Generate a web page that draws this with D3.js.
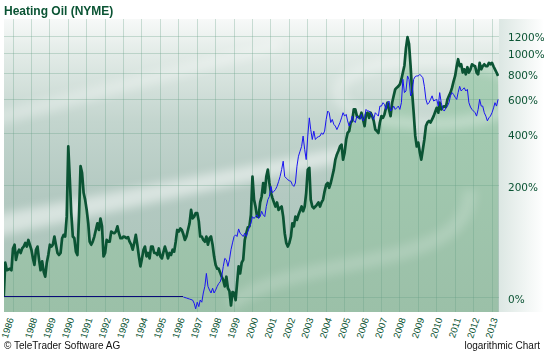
<!DOCTYPE html>
<html><head><meta charset="utf-8">
<script src="https://cdn.jsdelivr.net/npm/d3@7"></script>
<style>body{margin:0;background:#fff}svg{display:block}</style>
</head><body>
<svg id="chart" width="544" height="353"></svg>
<script>
const title = "Heating Oil (NYME)";
const footerLeft = "\u00A9 TeleTrader Software AG";
const footerRight = "logarithmic Chart";
const yTickValues = [0, 200, 400, 600, 800, 1000, 1200];
const xTickLabels = ["1986","1988","1989","1990","1991","1992","1993","1994","1995","1996","1997","1998","1999","2000","2001","2002","2003","2004","2005","2006","2007","2008","2009","2010","2011","2012","2013"];

// Heating oil, % change since start (monthly)
const heatingOil = [
["1986-07",0],["1986-08",40],["1986-09",30],["1986-10",31],["1986-11",32],["1986-12",30],
["1987-01",61],["1987-02",67],["1987-03",44],["1987-04",54],["1987-05",59],["1987-06",54],["1987-07",61],["1987-08",64],["1987-09",70],["1987-10",64],["1987-11",75],["1987-12",67],
["1988-01",59],["1988-02",46],["1988-03",37],["1988-04",59],["1988-05",64],["1988-06",44],["1988-07",30],["1988-08",42],["1988-09",28],["1988-10",22],["1988-11",40],["1988-12",51],
["1989-01",67],["1989-02",64],["1989-03",67],["1989-04",81],["1989-05",67],["1989-06",54],["1989-07",51],["1989-08",54],["1989-09",78],["1989-10",84],["1989-11",81],["1989-12",120],
["1990-01",338],["1990-02",216],["1990-03",128],["1990-04",81],["1990-05",78],["1990-06",56],["1990-07",51],["1990-08",120],["1990-09",261],["1990-10",238],["1990-11",178],["1990-12",160],
["1991-01",135],["1991-02",106],["1991-03",72],["1991-04",67],["1991-05",72],["1991-06",81],["1991-07",93],["1991-08",106],["1991-09",93],["1991-10",116],["1991-11",100],["1991-12",49],
["1992-01",54],["1992-02",75],["1992-03",72],["1992-04",72],["1992-05",90],["1992-06",88],["1992-07",87],["1992-08",90],["1992-09",100],["1992-10",87],["1992-11",78],["1992-12",78],
["1993-01",81],["1993-02",80],["1993-03",78],["1993-04",80],["1993-05",72],["1993-06",67],["1993-07",59],["1993-08",70],["1993-09",84],["1993-10",67],["1993-11",49],["1993-12",35],
["1994-01",46],["1994-02",59],["1994-03",64],["1994-04",49],["1994-05",54],["1994-06",46],["1994-07",64],["1994-08",64],["1994-09",54],["1994-10",54],["1994-11",51],["1994-12",61],
["1995-01",49],["1995-02",46],["1995-03",55],["1995-04",64],["1995-05",56],["1995-06",46],["1995-07",54],["1995-08",51],["1995-09",59],["1995-10",56],["1995-11",72],["1995-12",93],
["1996-01",90],["1996-02",96],["1996-03",93],["1996-04",85],["1996-05",75],["1996-06",81],["1996-07",93],["1996-08",106],["1996-09",135],["1996-10",116],["1996-11",120],["1996-12",128],
["1997-01",128],["1997-02",110],["1997-03",81],["1997-04",81],["1997-05",75],["1997-06",72],["1997-07",81],["1997-08",67],["1997-09",78],["1997-10",81],["1997-11",67],["1997-12",49],
["1998-01",37],["1998-02",32],["1998-03",32],["1998-04",27],["1998-05",22],["1998-06",18],["1998-07",11],["1998-08",22],["1998-09",9],["1998-10",6],["1998-11",-8],["1998-12",5],
["1999-01",4],["1999-02",-3],["1999-03",14],["1999-04",35],["1999-05",26],["1999-06",40],["1999-07",44],["1999-08",75],["1999-09",87],["1999-10",98],["1999-11",100],["1999-12",124],
["2000-01",226],["2000-02",160],["2000-03",143],["2000-04",120],["2000-05",120],["2000-06",153],["2000-07",168],["2000-08",206],["2000-09",178],["2000-10",226],["2000-11",249],["2000-12",206],
["2001-01",178],["2001-02",164],["2001-03",153],["2001-04",143],["2001-05",153],["2001-06",135],["2001-07",140],["2001-08",143],["2001-09",120],["2001-10",87],["2001-11",70],["2001-12",64],
["2002-01",70],["2002-02",81],["2002-03",106],["2002-04",100],["2002-05",120],["2002-06",113],["2002-07",124],["2002-08",133],["2002-09",143],["2002-10",132],["2002-11",143],["2002-12",178],
["2003-01",249],["2003-02",255],["2003-03",160],["2003-04",143],["2003-05",139],["2003-06",143],["2003-07",147],["2003-08",153],["2003-09",143],["2003-10",153],["2003-11",160],["2003-12",182],
["2004-01",201],["2004-02",206],["2004-03",192],["2004-04",206],["2004-05",226],["2004-06",249],["2004-07",285],["2004-08",305],["2004-09",320],["2004-10",338],["2004-11",346],["2004-12",285],
["2005-01",312],["2005-02",369],["2005-03",400],["2005-04",409],["2005-05",454],["2005-06",463],["2005-07",530],["2005-08",530],["2005-09",490],["2005-10",485],["2005-11",480],["2005-12",510],
["2006-01",471],["2006-02",435],["2006-03",500],["2006-04",510],["2006-05",480],["2006-06",510],["2006-07",490],["2006-08",463],["2006-09",417],["2006-10",410],["2006-11",400],["2006-12",454],
["2007-01",490],["2007-02",480],["2007-03",500],["2007-04",540],["2007-05",573],["2007-06",530],["2007-07",490],["2007-08",573],["2007-09",620],["2007-10",667],["2007-11",680],["2007-12",690],
["2008-01",706],["2008-02",747],["2008-03",805],["2008-04",870],["2008-05",1050],["2008-06",1180],["2008-07",1100],["2008-08",863],["2008-09",643],["2008-10",510],["2008-11",387],["2008-12",338],
["2009-01",355],["2009-02",312],["2009-03",285],["2009-04",325],["2009-05",369],["2009-06",435],["2009-07",454],["2009-08",463],["2009-09",454],["2009-10",471],["2009-11",490],["2009-12",515],
["2010-01",540],["2010-02",510],["2010-03",573],["2010-04",530],["2010-05",545],["2010-06",550],["2010-07",545],["2010-08",595],["2010-09",620],["2010-10",643],["2010-11",680],["2010-12",730],
["2011-01",775],["2011-02",863],["2011-03",931],["2011-04",863],["2011-05",881],["2011-06",805],["2011-07",834],["2011-08",789],["2011-09",853],["2011-10",805],["2011-11",834],["2011-12",881],
["2012-01",870],["2012-02",863],["2012-03",805],["2012-04",789],["2012-05",895],["2012-06",834],["2012-07",863],["2012-08",881],["2012-09",863],["2012-10",863],["2012-11",895],["2012-12",881],
["2013-01",895],["2013-02",860],["2013-03",834],["2013-04",805],["2013-05",775]
];

// Comparison series (blue), % change, flat at 0 before its data begins
const comparison = [
["1986-07",0],["1996-04",0],["1996-06",-1],["1996-08",-2],["1996-10",-3],["1996-11",-6],["1996-12",-11],
["1997-01",-5],["1997-02",-9],["1997-03",-3],["1997-04",-5],["1997-05",4],["1997-06",11],["1997-07",26],["1997-08",11],["1997-09",7],["1997-10",4],["1997-11",9],["1997-12",4],
["1998-01",7],["1998-02",11],["1998-03",14],["1998-04",16],["1998-05",22],["1998-06",35],["1998-07",46],["1998-08",44],["1998-09",35],["1998-10",44],["1998-11",59],["1998-12",70],
["1999-01",81],["1999-02",84],["1999-03",81],["1999-04",95],["1999-05",87],["1999-06",84],["1999-07",81],["1999-08",87],["1999-09",81],["1999-10",90],["1999-11",98],["1999-12",106],
["2000-01",120],["2000-02",116],["2000-03",120],["2000-04",124],["2000-05",116],["2000-06",120],["2000-07",132],["2000-08",124],["2000-09",120],["2000-10",143],["2000-11",160],["2000-12",168],
["2001-01",196],["2001-02",178],["2001-03",182],["2001-04",187],["2001-05",196],["2001-06",210],["2001-07",226],["2001-08",249],["2001-09",279],["2001-10",226],["2001-11",221],["2001-12",216],
["2002-01",213],["2002-02",211],["2002-03",201],["2002-04",196],["2002-05",206],["2002-06",261],["2002-07",298],["2002-08",318],["2002-09",338],["2002-10",385],["2002-11",325],["2002-12",285],
["2003-01",385],["2003-02",480],["2003-03",417],["2003-04",369],["2003-05",409],["2003-06",369],["2003-07",378],["2003-08",382],["2003-09",385],["2003-10",400],["2003-11",393],["2003-12",409],
["2004-01",471],["2004-02",520],["2004-03",510],["2004-04",454],["2004-05",471],["2004-06",444],["2004-07",435],["2004-08",417],["2004-09",435],["2004-10",454],["2004-11",480],["2004-12",510],
["2005-01",490],["2005-02",500],["2005-03",463],["2005-04",435],["2005-05",454],["2005-06",490],["2005-07",463],["2005-08",454],["2005-09",490],["2005-10",480],["2005-11",471],["2005-12",500],
["2006-01",463],["2006-02",480],["2006-03",530],["2006-04",520],["2006-05",520],["2006-06",510],["2006-07",490],["2006-08",471],["2006-09",510],["2006-10",500],["2006-11",490],["2006-12",551],
["2007-01",551],["2007-02",573],["2007-03",562],["2007-04",530],["2007-05",573],["2007-06",584],["2007-07",520],["2007-08",530],["2007-09",551],["2007-10",530],["2007-11",540],["2007-12",551],
["2008-01",530],["2008-02",573],["2008-03",747],["2008-04",643],["2008-05",655],["2008-06",775],["2008-07",747],["2008-08",620],["2008-09",643],["2008-10",747],["2008-11",770],["2008-12",775],
["2009-01",775],["2009-02",789],["2009-03",775],["2009-04",760],["2009-05",690],["2009-06",595],["2009-07",562],["2009-08",573],["2009-09",595],["2009-10",620],["2009-11",584],["2009-12",590],
["2010-01",595],["2010-02",551],["2010-03",643],["2010-04",573],["2010-05",530],["2010-06",520],["2010-07",540],["2010-08",551],["2010-09",573],["2010-10",620],["2010-11",643],["2010-12",630],
["2011-01",610],["2011-02",595],["2011-03",643],["2011-04",690],["2011-05",655],["2011-06",667],["2011-07",679],["2011-08",655],["2011-09",667],["2011-10",573],["2011-11",545],["2011-12",530],
["2012-01",520],["2012-02",510],["2012-03",490],["2012-04",530],["2012-05",595],["2012-06",551],["2012-07",551],["2012-08",510],["2012-09",490],["2012-10",463],["2012-11",480],["2012-12",490],
["2013-01",510],["2013-02",540],["2013-03",573],["2013-04",551],["2013-05",595]
];
const comparisonStart = "1996-04"; // before this the blue series has no data and sits at 0%

const W = 544, H = 353;
const L = 4, R = 499, T = 19, B = 312;
const parse = d3.timeParse("%Y-%m");
const green = heatingOil.map(d => ({date: parse(d[0]), v: d[1]}));
const blue = comparison.map(d => ({date: parse(d[0]), v: d[1]}));
const startDate = parse(comparisonStart);
const blueFlat = blue.filter(d => d.date <= startDate);
const blueLive = blue.filter(d => d.date >= startDate);

const x = d3.scaleTime().domain([new Date(1987,0,1), new Date(2013,0,1)]).range([13, 492]);
const y = d3.scaleLog().domain([0.863, 15.3]).range([B, T]);
const yp = p => y(1 + p / 100);

const svg = d3.select("#chart");
const defs = svg.append("defs");
defs.append("clipPath").attr("id","clip").append("rect").attr("x",L).attr("y",T).attr("width",R-L).attr("height",B-T);
const bg = defs.append("linearGradient").attr("id","bg").attr("x1",0).attr("y1",0).attr("x2",0).attr("y2",1);
[[0,"#f7f9f8"],[0.12,"#e2ebe7"],[0.35,"#c3d5ce"],[0.6,"#b3c9c1"],[1,"#a9c3b8"]].forEach(s=>bg.append("stop").attr("offset",s[0]).attr("stop-color",s[1]));
const ag = defs.append("linearGradient").attr("id","areaG").attr("gradientUnits","userSpaceOnUse").attr("x1",0).attr("y1",T).attr("x2",0).attr("y2",B);
[[0,"#b0d4bc"],[0.4,"#a2c9b0"],[1,"#9bc0a8"]].forEach(s=>ag.append("stop").attr("offset",s[0]).attr("stop-color",s[1]));
const rg = defs.append("linearGradient").attr("id","rightG").attr("x1",0).attr("y1",0).attr("x2",1).attr("y2",0);
[[0,"#dce7e3"],[1,"#ffffff"]].forEach(s=>rg.append("stop").attr("offset",s[0]).attr("stop-color",s[1]));
defs.append("filter").attr("id","blur").attr("x","-20%").attr("y","-20%").attr("width","140%").attr("height","140%")
  .append("feGaussianBlur").attr("stdDeviation",5);

// backgrounds
svg.append("rect").attr("x",R).attr("y",T).attr("width",W-R).attr("height",B-T).attr("fill","url(#rightG)");
svg.append("rect").attr("x",L).attr("y",T).attr("width",R-L).attr("height",B-T).attr("fill","url(#bg)");

const deco = svg.append("g").attr("clip-path","url(#clip)");
const decoB = deco.append("g").attr("filter","url(#blur)");
decoB.append("path").attr("d","M-10,238 L350,160 L350,146 L-10,216 Z").attr("fill","#fff").attr("opacity",0.5);
decoB.append("path").attr("d","M-10,128 L280,50 L280,40 L-10,112 Z").attr("fill","#fff").attr("opacity",0.3);

// area under heating oil line
const area = d3.area().x(d => x(d.date)).y0(B).y1(d => yp(d.v));
deco.append("path").datum(green).attr("d", area).attr("fill","url(#areaG)");

// swirl logo highlights
const sw = deco.append("g").attr("filter","url(#blur)").attr("fill","none").attr("stroke","#fff");
sw.append("ellipse").attr("cx",430).attr("cy",92).attr("rx",92).attr("ry",32).attr("stroke-width",12).attr("opacity",0.3);
sw.append("path").attr("d","M230,305 C300,250 470,275 470,190").attr("stroke-width",14).attr("opacity",0.18);

// gridlines
const grid = svg.append("g");
grid.selectAll("line.v").data(d3.range(1987, 2014)).join("line")
  .attr("x1", d => x(new Date(d,0,1))).attr("x2", d => x(new Date(d,0,1)))
  .attr("y1", T).attr("y2", B).attr("stroke","#5f9a80").attr("stroke-opacity",0.3).attr("stroke-width",1)
  .attr("shape-rendering","crispEdges");
grid.selectAll("line.h").data(yTickValues).join("line")
  .attr("x1", L).attr("x2", R).attr("y1", d => Math.round(yp(d))+0.5).attr("y2", d => Math.round(yp(d))+0.5)
  .attr("stroke","#5f9a80").attr("stroke-opacity",0.3).attr("stroke-width",1);

// lines
const line = d3.line().x(d => x(d.date)).y(d => yp(d.v));
const lines = svg.append("g").attr("clip-path","url(#clip)");
lines.append("path").datum(green).attr("d", line).attr("fill","none").attr("stroke","#0b5434").attr("stroke-width",2.7).attr("stroke-linejoin","round");
lines.append("path").datum(blueFlat).attr("d", line).attr("fill","none").attr("stroke","#0a0a78").attr("stroke-width",1).attr("shape-rendering","crispEdges");
lines.append("path").datum(blueLive).attr("d", line).attr("fill","none").attr("stroke","#1a14f0").attr("stroke-width",1);

// y axis
const yAxis = d3.axisRight(y).tickValues(yTickValues.map(v => 1 + v/100)).tickFormat(v => Math.round((v-1)*100) + "%").tickSize(0).tickPadding(0);
const ya = svg.append("g").attr("transform", `translate(508,0)`).call(yAxis);
ya.select(".domain").remove();
ya.selectAll("text").attr("font-family","DejaVu Sans").attr("font-size","10.5px").attr("fill","#0b5434").attr("x",0).attr("dy","0.5em");

// x axis
const tickDates = xTickLabels.map(l => l === "1986" ? green[0].date : new Date(+l,0,1));
const xAxis = d3.axisBottom(x).tickValues(tickDates).tickFormat((d,i) => xTickLabels[i]).tickSize(0).tickPadding(0);
const xa = svg.append("g").attr("transform", `translate(0,${B})`).call(xAxis);
xa.select(".domain").remove();
xa.selectAll(".tick").attr("transform", d => `translate(${Math.max(x(d) + 6, 14)},0)`);
xa.selectAll("text").attr("font-family","Liberation Sans, Arial").attr("font-size","9.5px").attr("fill","#0b5434")
  .attr("text-anchor","end").attr("dy",0).attr("y",0)
  .attr("transform","translate(0,7) rotate(-72)");

// titles
svg.append("text").attr("x",4).attr("y",15).text(title).attr("font-family","Liberation Sans, Arial").attr("font-weight","bold").attr("font-size","12px").attr("fill","#0b5434");
svg.append("text").attr("x",4).attr("y",349).text(footerLeft).attr("font-family","Liberation Sans, Arial").attr("font-size","10px").attr("fill","#111");
svg.append("text").attr("x",540).attr("y",349).attr("text-anchor","end").text(footerRight).attr("font-family","Liberation Sans, Arial").attr("font-size","10px").attr("fill","#111");
</script>
</body></html>
